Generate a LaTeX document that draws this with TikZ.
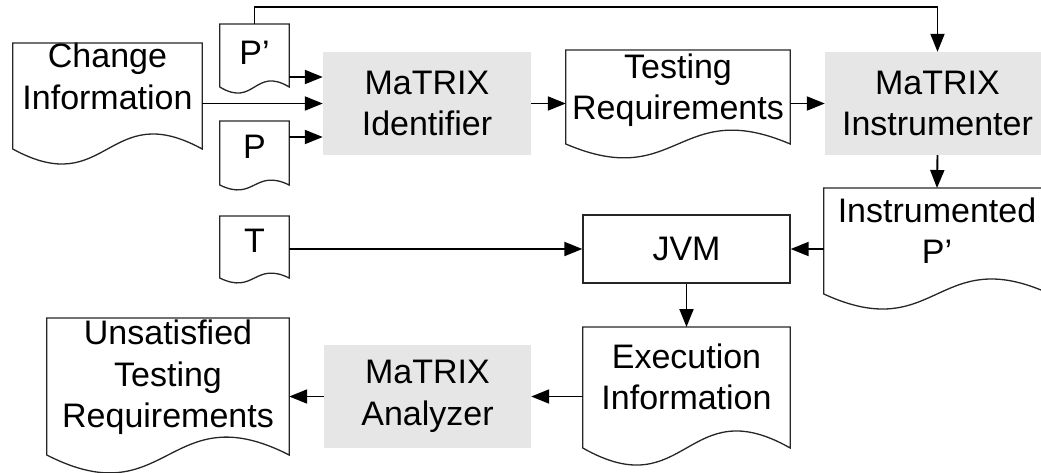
\documentclass[tikz,border=0pt]{standalone}
\usepackage{fontspec}
\setmainfont{Liberation Sans}
\usetikzlibrary{arrows.meta,calc}
\definecolor{procgray}{HTML}{E6E6E6}
\tikzset{
  labelfont/.style={font=\fontsize{34}{41.5}\selectfont},
  flow/.style={draw=black, line width=1.9pt, -{Triangle[length=18pt,width=14pt]}},
  docline/.style={draw=black!85, line width=1.3pt},
  doctext/.style={labelfont, inner sep=0pt, align=center, anchor=north},
  procbox/.style={labelfont, fill=procgray, inner sep=0pt, align=center,
                  minimum width=208pt, minimum height=103pt},
  vmbox/.style={labelfont, draw=black!85, line width=1.3pt, fill=white, inner sep=0pt,
                minimum width=207pt, minimum height=68pt},
}
% Document symbol: straight sides of length #2 below the node's top edge,
% closed by a wavy bottom whose bulge is set by #3.
\newcommand\docoutline[3]{%
  \draw[docline] ([yshift=-#2]#1.north west) -- (#1.north west) -- (#1.north east)
    -- ([yshift=-#2]#1.north east)
    .. controls ($([yshift=-#2]#1.north)+(0pt,#3)$) and ($([yshift=-#2]#1.north)+(0pt,-#3)$)
    .. ([yshift=-#2]#1.north west) -- cycle;}

\begin{document}
\begin{tikzpicture}[x=1pt,y=-1pt]
\useasboundingbox (0,0) rectangle (1041,472);

% documents
\node[doctext, minimum width=189pt, minimum height=66.7pt] (chg) at (107.5,43) {Change\\Information};
\node[doctext, minimum width=69pt, minimum height=58pt] (pnew) at (254.5,24) {P’};
\node[doctext, minimum width=69pt, minimum height=51pt] (pold) at (254.5,121) {P};
\node[doctext, minimum width=69pt, minimum height=50pt] (tests) at (254.5,216) {T};
\node[doctext, minimum width=224pt, minimum height=80.5pt] (treq) at (678,50) {Testing\\Requirements};
\node[doctext, minimum width=226pt, minimum height=85pt] (instp) at (937,188) {Instrumented\\P’};
\node[doctext, minimum width=207pt, minimum height=99pt] (exec) at (686.5,327) {Execution\\Information};
\node[doctext, minimum width=242pt, minimum height=119pt] (unsat) at (168,318) {Unsatisfied\\Testing\\Requirements};

\docoutline{chg}{106pt}{52pt}
\docoutline{pnew}{63pt}{21pt}
\docoutline{pold}{64pt}{17pt}
\docoutline{tests}{62pt}{17pt}
\docoutline{treq}{94pt}{48pt}
\docoutline{instp}{106pt}{52pt}
\docoutline{exec}{121pt}{59pt}
\docoutline{unsat}{137pt}{62pt}

% tools
\node[procbox] (ident) at (427,103.5) {MaTRIX\\Identifier};
\node[procbox, minimum width=225pt] (instr) at (937.5,103.5) {MaTRIX\\Instrumenter};
\node[vmbox] (jvm) at (686.5,249) {JVM};
\node[procbox, minimum width=207pt] (anl) at (427.5,396.5) {MaTRIX\\Analyzer};

% data flow
\coordinate (identin1) at ([yshift=26.5pt]ident.west);
\coordinate (identin3) at ([yshift=-33.5pt]ident.west);
\draw[flow] (pnew.north) |- ([yshift=45pt]instr.north) -- (instr.north);
\draw[flow] (pnew.east |- identin1) -- (identin1);
\draw[flow] (chg.east |- ident.west) -- (ident.west);
\draw[flow] (pold.east |- identin3) -- (identin3);
\draw[flow] (ident.east) -- (treq.west |- ident.east);
\draw[flow] (treq.east |- instr.west) -- (instr.west);
\draw[flow] (instr.south) -- (instp.north);
\draw[flow] (instp.west |- jvm.east) -- (jvm.east);
\draw[flow] (tests.east |- jvm.west) -- (jvm.west);
\draw[flow] (jvm.south) -- (exec.north);
\draw[flow] (exec.west |- anl.east) -- (anl.east);
\draw[flow] (anl.west) -- (unsat.east |- anl.west);
\end{tikzpicture}
\end{document}
